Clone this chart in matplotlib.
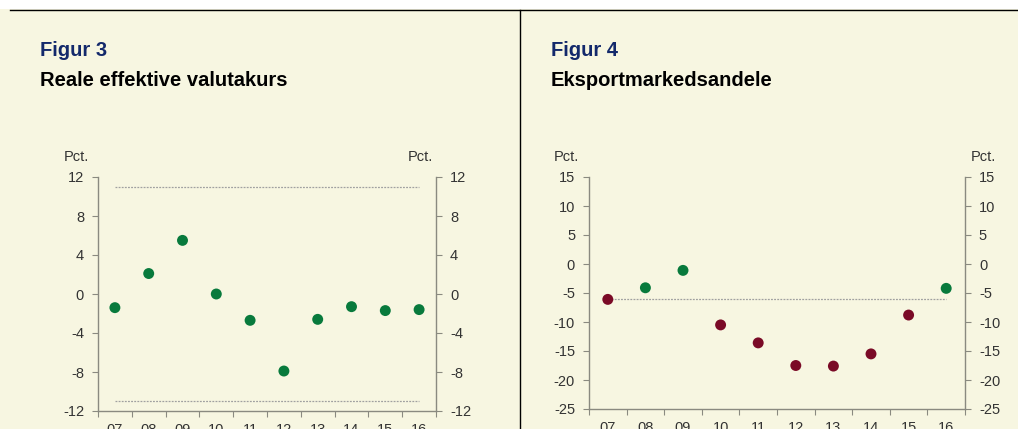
import numpy as np
import matplotlib.pyplot as plt
from matplotlib.lines import Line2D
from matplotlib.patches import Rectangle

plt.rcParams['font.family'] = ['Liberation Sans', 'DejaVu Sans']
plt.rcParams['axes.unicode_minus'] = False

years = ['07', '08', '09', '10', '11', '12', '13', '14', '15', '16']

# Figur 3: reale effektive valutakurs, pct.
valuta = [-1.4, 2.1, 5.5, 0.0, -2.7, -7.9, -2.6, -1.3, -1.7, -1.6]
valuta_band = [11, -11]

# Figur 4: eksportmarkedsandele, pct.
eksport = [-6.1, -4.1, -1.1, -10.5, -13.6, -17.5, -17.6, -15.5, -8.8, -4.2]
eksport_ok = [False, True, True, False, False, False, False, False, False, True]
eksport_limit = -6

W, H = 1018, 429
bg = '#f7f6e1'
green = '#087a3c'
red = '#7a0a26'
axcol = '#8a8a80'
txt = '#333333'


def fx(x):
    return x / W


def fy(y):
    return 1 - y / H


def setup(ax, lo, hi, step):
    x = np.arange(len(years))
    ax.set_facecolor(bg)
    ax.set_xlim(-0.5, len(years) - 0.5)
    ax.set_ylim(lo, hi)
    ax.set_yticks(np.arange(lo, hi + step, step))
    ax.set_xticks(np.arange(-0.5, len(years), 1.0))
    ax.set_xticklabels([])
    ax.set_xticks(x, minor=True)
    ax.set_xticklabels(years, minor=True)
    ax.spines['top'].set_visible(False)
    for s in ['left', 'right', 'bottom']:
        ax.spines[s].set_color(axcol)
        ax.spines[s].set_linewidth(1.0)
    ax.tick_params(axis='y', which='major', direction='out', length=4, width=0.8,
                   color=axcol, labelcolor=txt, labelsize=10.5,
                   left=True, right=True, labelleft=True, labelright=True, pad=6)
    ax.tick_params(axis='x', which='major', direction='out', length=4, width=0.8,
                   color=axcol)
    ax.tick_params(axis='x', which='minor', length=0, labelsize=10.5,
                   labelcolor=txt, pad=9)
    return x


fig = plt.figure(figsize=(W / 100, H / 100), dpi=100)
fig.patch.set_facecolor(bg)
fig.patches.append(Rectangle((0, fy(9)), 1, 1 - fy(9), transform=fig.transFigure,
                             facecolor='white', edgecolor='none', zorder=0))
fig.lines.append(Line2D([fx(10), 1], [fy(9.5), fy(9.5)], transform=fig.transFigure,
                        color='black', lw=1.0))
fig.lines.append(Line2D([fx(520), fx(520)], [0, fy(9.5)], transform=fig.transFigure,
                        color='black', lw=1.0))

# Figur 3
ax1 = fig.add_axes([fx(98), fy(411), fx(436) - fx(98), fy(177) - fy(411)])
x = setup(ax1, -12, 12, 4)
for b in valuta_band:
    ax1.plot([x[0], x[-1]], [b, b], color='#a0a0a0', lw=0.9, ls=(0, (1.5, 1)))
ax1.scatter(x, valuta, s=62, color=green, zorder=3, edgecolors='none')

# Figur 4
ax2 = fig.add_axes([fx(589), fy(409), fx(965) - fx(589), fy(177) - fy(409)])
x = setup(ax2, -25, 15, 5)
ax2.plot([x[0], x[-1]], [eksport_limit, eksport_limit], color='#a0a0a0', lw=0.9,
         ls=(0, (1.5, 1)), zorder=2)
cols = [green if ok else red for ok in eksport_ok]
ax2.scatter(x, eksport, s=62, c=cols, zorder=3, edgecolors='none')

# titles
fig.text(fx(40), fy(51), 'Figur 3', color='#13296b', fontsize=14.5, fontweight='bold',
         va='center')
fig.text(fx(40), fy(80), 'Reale effektive valutakurs', color='black', fontsize=14.5,
         fontweight='bold', va='center')
fig.text(fx(551), fy(51), 'Figur 4', color='#13296b', fontsize=14.5, fontweight='bold',
         va='center')
fig.text(fx(551), fy(80), 'Eksportmarkedsandele', color='black', fontsize=14.5,
         fontweight='bold', va='center')

for px in [76, 420, 566, 983]:
    fig.text(fx(px), fy(157), 'Pct.', color=txt, fontsize=10.5, ha='center', va='center')

fig.savefig('out.png', dpi=100, facecolor=fig.get_facecolor())
